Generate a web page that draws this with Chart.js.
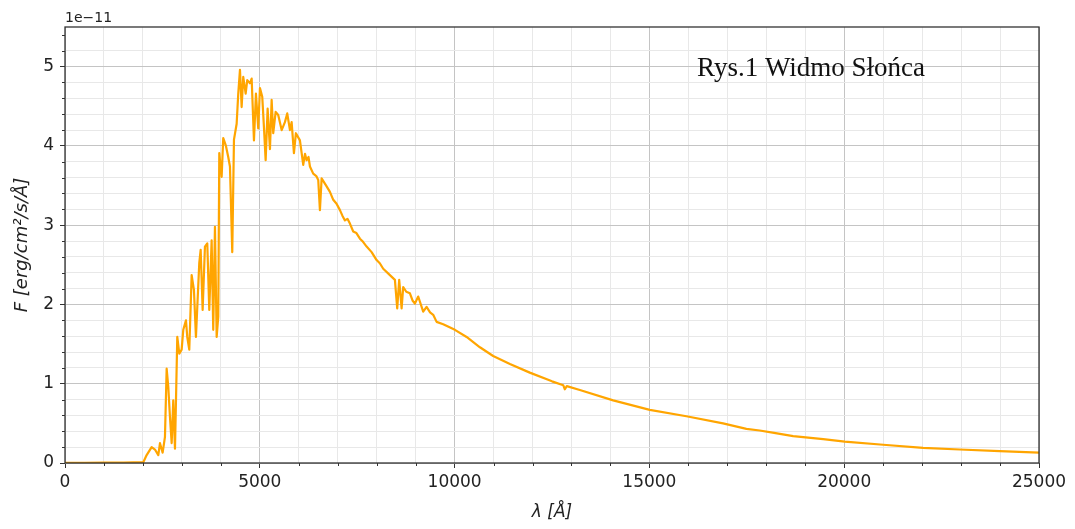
<!DOCTYPE html>
<html>
<head>
<meta charset="utf-8">
<script src="https://cdn.jsdelivr.net/npm/chart.js@4.4.1/dist/chart.umd.min.js"></script>
<style>
  html, body { margin: 0; padding: 0; background: #fff; }
  #wrap { position: relative; width: 1075px; height: 529px; }
</style>
</head>
<body>
<div id="wrap"><canvas id="spectrum"></canvas></div>
<script>
// Wavelength [Angstrom]
const wavelengths = [
  0, 500, 1000, 1500, 2010, 2096, 2224, 2309, 2395, 2438, 2506, 2566, 2609, 2651, 2694, 2738,
  2779, 2823, 2882, 2934, 2994, 3036, 3105, 3138, 3190, 3251, 3310, 3361, 3446, 3482, 3533,
  3592, 3652, 3703, 3764, 3805, 3849, 3893, 3934, 3960, 4021, 4062, 4131, 4190, 4234, 4293,
  4337, 4406, 4447, 4491, 4534, 4575, 4637, 4678, 4747, 4791, 4850, 4901, 4960, 5004, 5063,
  5106, 5150, 5201, 5261, 5304, 5345, 5407, 5473, 5561, 5645, 5704, 5774, 5817, 5876, 5927,
  6030, 6115, 6160, 6202, 6250, 6287, 6371, 6450, 6500, 6543, 6587, 6715, 6800, 6885, 6970, 7057,
  7120, 7185, 7250, 7313, 7398, 7480, 7570, 7650, 7742, 7870, 7998, 8080, 8168, 8340, 8468,
  8527, 8578, 8640, 8681, 8760, 8853, 8920, 8981, 9066, 9194, 9281, 9370, 9451, 9538, 9707,
  10008, 10308, 10650, 10990, 11420, 11930, 12500, 12790, 12830, 12880, 13215,
  14070, 15010, 15950, 16890, 17490, 17830, 18200, 18690, 19460, 20015, 21000, 22025, 22970, 23990, 25000
];

// Flux in units of 1e-11 erg/cm^2/s/A
const flux = [
  0.003, 0.003, 0.004, 0.006, 0.01, 0.10, 0.20, 0.17, 0.10, 0.25, 0.13, 0.33, 1.19, 0.96, 0.58, 0.25,
  0.79, 0.18, 1.59, 1.38, 1.43, 1.68, 1.80, 1.59, 1.43, 2.37, 2.18, 1.59, 2.52, 2.69, 1.93,
  2.73, 2.77, 1.93, 2.81, 1.68, 2.98, 1.59, 1.85, 3.91, 3.61, 4.10, 4.00, 3.86, 3.74, 2.66,
  4.08, 4.28, 4.66, 4.96, 4.49, 4.87, 4.66, 4.83, 4.79, 4.85, 4.07, 4.66, 4.22, 4.73, 4.62,
  4.24, 3.82, 4.47, 3.96, 4.58, 4.16, 4.43, 4.39, 4.20, 4.30, 4.41, 4.20, 4.30, 3.91, 4.16,
  4.07, 3.76, 3.90, 3.82, 3.86, 3.74, 3.65, 3.62, 3.57, 3.19, 3.59, 3.49, 3.42, 3.32, 3.27, 3.19,
  3.12, 3.06, 3.08, 3.02, 2.92, 2.90, 2.83, 2.79, 2.73, 2.66, 2.56, 2.52, 2.45, 2.37, 2.31,
  1.95, 2.31, 1.95, 2.22, 2.16, 2.14, 2.05, 2.01, 2.10, 1.91, 1.97, 1.90, 1.87, 1.78, 1.75,
  1.68, 1.59, 1.46, 1.35, 1.25, 1.14, 1.03, 0.98, 0.93, 0.97, 0.92,
  0.79, 0.67, 0.59, 0.50, 0.43, 0.41, 0.38, 0.34, 0.30, 0.27, 0.23, 0.19, 0.17, 0.15, 0.13
];

// Axis settings
const xMin = 0, xMax = 25000, xMajor = 5000, xMinor = 1000;
const yMin = 0, yMax = 5.5, yMajor = 1, yMinor = 0.2;

const chartTitle = 'Rys.1 Widmo Słońca';
const offsetText = '1e\u221211';

const points = wavelengths.map((w, i) => ({ x: w, y: flux[i] }));

const isMultiple = (v, step) => Math.abs(v / step - Math.round(v / step)) < 1e-6;

const majorGrid = '#c4c4c4';
const minorGrid = '#e8e8e8';
const tickFont = { family: 'DejaVu Sans', size: 17 };

// Extra drawing: frame, minor tick marks, offset text, annotation
const decorPlugin = {
  id: 'decor',
  afterDraw(chart) {
    const { ctx, chartArea: a, scales } = chart;
    ctx.save();
    // minor ticks
    ctx.strokeStyle = '#333';
    ctx.lineWidth = 1;
    ctx.beginPath();
    for (let v = xMin; v <= xMax; v += xMinor) {
      if (isMultiple(v, xMajor)) continue;
      const px = Math.round(scales.x.getPixelForValue(v)) + 0.5;
      ctx.moveTo(px, a.bottom);
      ctx.lineTo(px, a.bottom + 3);
    }
    for (let i = 0; i * yMinor <= yMax + 1e-9; i++) {
      const v = i * yMinor;
      if (isMultiple(v, yMajor)) continue;
      const py = Math.round(scales.y.getPixelForValue(v)) + 0.5;
      ctx.moveTo(a.left, py);
      ctx.lineTo(a.left - 3, py);
    }
    ctx.stroke();
    // frame
    ctx.strokeStyle = '#333';
    ctx.lineWidth = 1.3;
    ctx.strokeRect(a.left, a.top, a.right - a.left, a.bottom - a.top);
    // offset text
    ctx.fillStyle = '#222';
    ctx.font = '14px "DejaVu Sans"';
    ctx.textBaseline = 'bottom';
    ctx.textAlign = 'left';
    ctx.fillText(offsetText, a.left, a.top - 2);
    // annotation
    ctx.fillStyle = '#111';
    ctx.font = '27px "Liberation Serif"';
    ctx.textBaseline = 'alphabetic';
    ctx.fillText(chartTitle, 697, 76);
    ctx.restore();
  }
};

new Chart(document.getElementById('spectrum'), {
  type: 'scatter',
  data: {
    datasets: [{
      data: points,
      showLine: true,
      borderColor: '#FFA500',
      backgroundColor: '#FFA500',
      borderWidth: 2.2,
      borderJoinStyle: 'round',
      pointRadius: 0,
      tension: 0
    }]
  },
  options: {
    responsive: true,
    maintainAspectRatio: false,
    animation: false,
    layout: { padding: { top: 27, right: 36, left: 0, bottom: 0 } },
    plugins: {
      legend: { display: false },
      tooltip: { enabled: false }
    },
    scales: {
      x: {
        type: 'linear',
        min: xMin,
        max: xMax,
        afterFit: (s) => { s.height = 66; },
        border: { display: false },
        grid: {
          color: (c) => isMultiple(c.tick.value, xMajor) ? majorGrid : minorGrid,
          tickColor: (c) => isMultiple(c.tick.value, xMajor) ? '#333' : 'rgba(0,0,0,0)',
          tickLength: 5,
          lineWidth: 1
        },
        ticks: {
          stepSize: xMinor,
          autoSkip: false,
          maxRotation: 0,
          padding: 4,
          color: '#222',
          font: tickFont,
          callback: (v) => isMultiple(v, xMajor) ? String(v) : ''
        },
        title: {
          display: true,
          text: 'λ [Å]',
          color: '#222',
          font: { family: 'DejaVu Sans', size: 17, style: 'italic' },
          padding: { top: 6, bottom: 6 }
        }
      },
      y: {
        type: 'linear',
        min: yMin,
        max: yMax,
        afterFit: (s) => { s.width = 65; },
        border: { display: false },
        grid: {
          color: (c) => isMultiple(c.tick.value, yMajor) ? majorGrid
            : (isMultiple(c.tick.value, yMinor) ? minorGrid : 'rgba(0,0,0,0)'),
          tickColor: (c) => isMultiple(c.tick.value, yMajor) ? '#333' : 'rgba(0,0,0,0)',
          tickLength: 5,
          lineWidth: 1
        },
        ticks: {
          stepSize: yMinor,
          autoSkip: false,
          padding: 6,
          color: '#222',
          font: tickFont,
          callback: (v) => isMultiple(v, yMajor) ? String(Math.round(v)) : ''
        },
        title: {
          display: true,
          text: 'F [erg/cm²/s/Å]',
          color: '#222',
          font: { family: 'DejaVu Sans', size: 18, style: 'italic' },
          padding: { top: 12, bottom: 0 }
        }
      }
    }
  },
  plugins: [decorPlugin]
});
</script>
</body>
</html>
